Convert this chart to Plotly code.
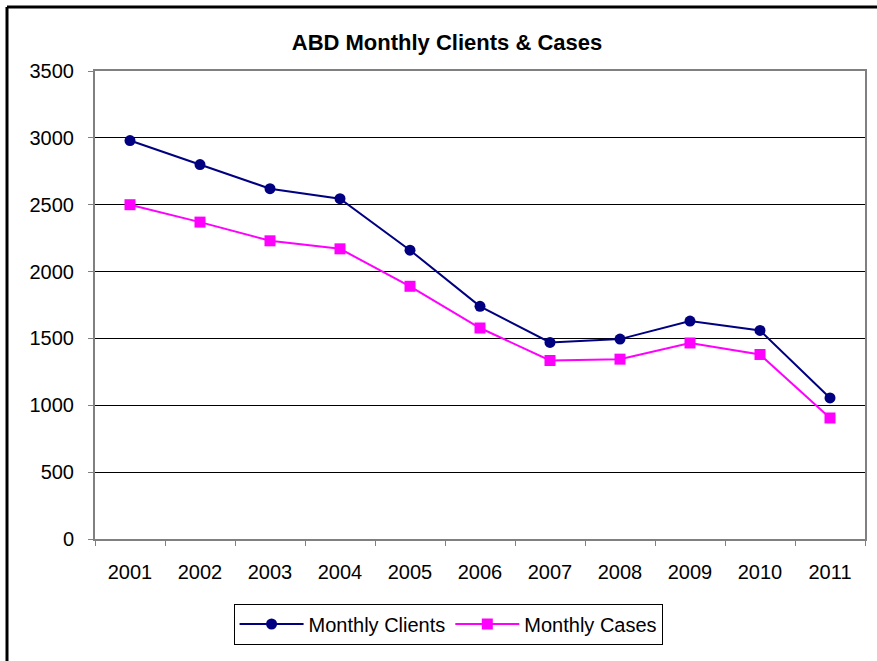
import plotly.graph_objects as go

years = ["2001", "2002", "2003", "2004", "2005", "2006", "2007", "2008", "2009", "2010", "2011"]
monthly_clients = [2980, 2800, 2620, 2545, 2160, 1740, 1470, 1495, 1630, 1560, 1055]
monthly_cases = [2500, 2370, 2230, 2170, 1890, 1578, 1335, 1345, 1466, 1380, 905]
y_ticks = [0, 500, 1000, 1500, 2000, 2500, 3000, 3500]

fig = go.Figure()
fig.add_trace(go.Scatter(
    x=years, y=monthly_clients, name="Monthly Clients", mode="lines+markers",
    line=dict(color="#000080", width=2),
    marker=dict(symbol="circle", size=11, color="#000080"),
))
fig.add_trace(go.Scatter(
    x=years, y=monthly_cases, name="Monthly Cases", mode="lines+markers",
    line=dict(color="#FF00FF", width=2),
    marker=dict(symbol="square", size=11, color="#FF00FF"),
))

font = "Liberation Sans, Arial, sans-serif"
px_x = lambda p: (p - 95) / 770
px_y = lambda p: (539 - p) / 468
fig.update_layout(
    width=877, height=661,
    margin=dict(l=95, r=10, t=71, b=122),
    paper_bgcolor="white", plot_bgcolor="white",
    font=dict(family=font, size=20, color="black"),
    title=dict(text="<b>ABD Monthly Clients & Cases</b>", x=447 / 877, xanchor="center",
               y=1 - 42 / 661, yanchor="middle", font=dict(size=22, family=font, color="black")),
    showlegend=True,
    legend=dict(orientation="h", x=(449 - 95) / 772, xanchor="center", y=-(624 - 539) / 468, yanchor="middle",
                bordercolor="black", borderwidth=1, font=dict(size=20),
                tracegroupgap=0, itemwidth=64),
    xaxis=dict(type="category", showgrid=False, showline=True, linecolor="#808080", linewidth=2,
               ticks="outside", tickson="boundaries", ticklen=5, tickcolor="#808080",
               mirror=True, tickfont=dict(size=20), range=[-0.5, 10.5], ticklabelstandoff=14),
    yaxis=dict(range=[0, 3500], tickvals=y_ticks, showgrid=True, gridcolor="black", gridwidth=1,
               showline=True, linecolor="#808080", linewidth=2, mirror=True,
               ticks="outside", ticklen=5, tickcolor="#808080", tickfont=dict(size=20),
               zeroline=False, ticklabelstandoff=10),
    shapes=[
        dict(type="line", xref="paper", yref="paper", x0=px_x(7), x1=px_x(877), y0=px_y(7), y1=px_y(7),
             line=dict(color="black", width=3)),
        dict(type="line", xref="paper", yref="paper", x0=px_x(7), x1=px_x(7), y0=px_y(7), y1=px_y(661),
             line=dict(color="black", width=3)),
    ],
)

fig.write_html("out.html", config={"displayModeBar": False},
               post_script="document.body.style.margin='0';")
